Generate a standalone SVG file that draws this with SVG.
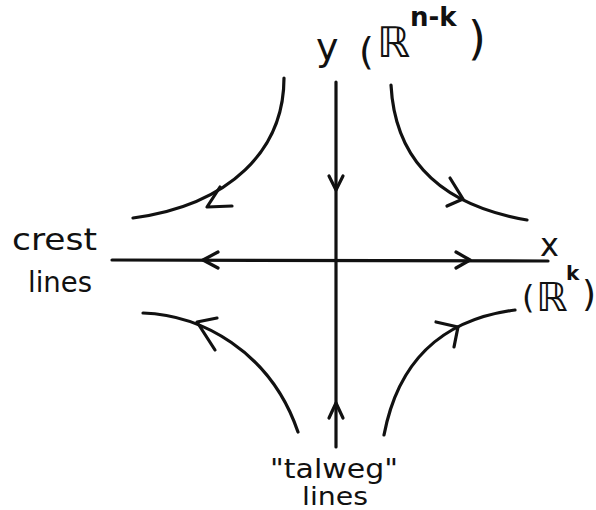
<svg xmlns="http://www.w3.org/2000/svg" width="596" height="510" viewBox="0 0 596 510">
<style>
.ln{fill:none;stroke:#111;stroke-width:3.2;stroke-linecap:round;stroke-linejoin:round}
.t{font-family:"DejaVu Sans","Liberation Sans",sans-serif;fill:#111}
</style>
<rect width="596" height="510" fill="#fff"/>
<g id="connectors">
<path class="ln" d="M112,260 L548,261"/>
<path class="ln" d="M336,82 L336,447"/>
<path class="ln" d="M218,252 L203,260 L218,268"/>
<path class="ln" d="M456,252 L470,260 L456,268"/>
<path class="ln" d="M329,176 L336,190 L343,176"/>
<path class="ln" d="M329,418 L336,403 L343,418"/>
<path class="ln" d="M284,78 C284,150 230,205 133,218"/>
<path class="ln" d="M220,187 L207,207 L232,206"/>
<path class="ln" d="M391,85 C395,160 440,205 527,220"/>
<path class="ln" d="M450,178 L463,199 L447,206"/>
<path class="ln" d="M143,313 C200,315 270,350 298,432"/>
<path class="ln" d="M217,318 L197,322 L215,350"/>
<path class="ln" d="M384,435 C398,362 440,320 515,310"/>
<path class="ln" d="M436,322 L458,327 L454,347"/>
</g>
<g id="label-y">
<text class="t" x="316" y="60" font-size="38">y</text>
<text class="t" x="359" y="64" font-size="38">(</text>
<text class="t" x="377" y="57" font-size="42">ℝ</text>
<text class="t" x="410" y="26" font-size="26" font-weight="bold">n-k</text>
<text class="t" x="468" y="54" font-size="46">)</text>
</g>
<g id="label-x">
<text class="t" x="540" y="256" font-size="32">x</text>
<text class="t" x="522" y="308" font-size="32">(</text>
<text class="t" x="536" y="311" font-size="40">ℝ</text>
<text class="t" x="566" y="280" font-size="20" font-weight="bold">k</text>
<text class="t" x="582" y="306" font-size="36">)</text>
</g>
<g id="label-crest">
<text class="t" x="12" y="250" font-size="30" textLength="85" lengthAdjust="spacingAndGlyphs">crest</text>
<text class="t" x="28" y="292" font-size="28" textLength="64" lengthAdjust="spacingAndGlyphs">lines</text>
</g>
<g id="label-talweg">
<text class="t" x="270" y="478" font-size="26" textLength="128" lengthAdjust="spacingAndGlyphs">"talweg"</text>
<text class="t" x="302" y="505" font-size="24" textLength="66" lengthAdjust="spacingAndGlyphs">lines</text>
</g>
</svg>
